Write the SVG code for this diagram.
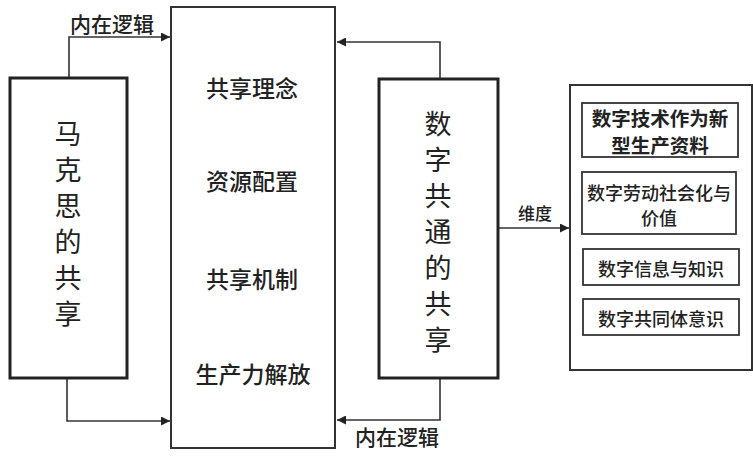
<svg xmlns="http://www.w3.org/2000/svg" width="753" height="456" viewBox="0 0 753 456">
<style>
.bg{fill:#fff}
.thick{fill:#fff;stroke:#222;stroke-width:3}
.thin{fill:#fff;stroke:#333;stroke-width:2}
.inner{fill:#fff;stroke:#333;stroke-width:1.8}
.line{fill:none;stroke:#333;stroke-width:1.6}
text{font-family:"Noto Sans CJK SC","Noto Sans CJK JP",sans-serif;fill:#222;text-anchor:middle;dominant-baseline:central}
.big{font-size:27px}
.mid{font-size:23px;font-weight:500}
.lbl{font-size:21px;font-weight:500}
.sm{font-size:17px;font-weight:500}
.box{font-size:19.5px;font-weight:bold}
.box2{font-size:18px;font-weight:500}
</style>
<defs>
<marker id="arr" viewBox="0 0 10 10" refX="10" refY="5" markerWidth="9" markerHeight="9" markerUnits="userSpaceOnUse" orient="auto">
<path d="M0,0 L10,5 L0,10 z" fill="#222"/>
</marker>
</defs>
<rect class="bg" x="0" y="0" width="753" height="456"/>
<g id="connectors">
<path class="line" d="M69,78 V37 H170" marker-end="url(#arr)"/>
<path class="line" d="M67,378 V421 H170" marker-end="url(#arr)"/>
<path class="line" d="M440,79 V42 H337" marker-end="url(#arr)"/>
<path class="line" d="M440,378 V420 H337" marker-end="url(#arr)"/>
<path class="line" d="M498,228 H569" marker-end="url(#arr)"/>
<text class="lbl" x="112" y="23">内在逻辑</text>
<text class="lbl" x="397" y="436">内在逻辑</text>
<text class="sm" x="535" y="212">维度</text>
</g>
<g id="marx">
<rect class="thick" x="10" y="78" width="117" height="300"/>
<text class="big" x="68" y="132">马</text>
<text class="big" x="68" y="168">克</text>
<text class="big" x="68" y="204">思</text>
<text class="big" x="68" y="240">的</text>
<text class="big" x="68" y="276">共</text>
<text class="big" x="68" y="312">享</text>
</g>
<g id="center">
<rect class="thin" x="171" y="7" width="164" height="441"/>
<text class="mid" x="252" y="87">共享理念</text>
<text class="mid" x="252" y="180">资源配置</text>
<text class="mid" x="252" y="278">共享机制</text>
<text class="mid" x="253" y="373">生产力解放</text>
</g>
<g id="digital">
<rect class="thick" x="379" y="79" width="119" height="299"/>
<text class="big" x="438" y="122">数</text>
<text class="big" x="438" y="158">字</text>
<text class="big" x="438" y="194">共</text>
<text class="big" x="438" y="230">通</text>
<text class="big" x="438" y="266">的</text>
<text class="big" x="438" y="302">共</text>
<text class="big" x="438" y="338">享</text>
</g>
<g id="dimensions">
<rect class="thin" x="570" y="85" width="182" height="285"/>
<g id="dim1">
<rect class="inner" x="582" y="103" width="156" height="54"/>
<text class="box" x="660" y="117">数字技术作为新</text>
<text class="box" x="660" y="144">型生产资料</text>
</g>
<g id="dim2">
<rect class="inner" x="582" y="172" width="154" height="62"/>
<text class="box2" x="659" y="192">数字劳动社会化与</text>
<text class="box2" x="659" y="217">价值</text>
</g>
<g id="dim3">
<rect class="inner" x="583" y="249" width="156" height="36"/>
<text class="box2" x="661" y="268">数字信息与知识</text>
</g>
<g id="dim4">
<rect class="inner" x="583" y="299" width="156" height="36"/>
<text class="box2" x="661" y="318">数字共同体意识</text>
</g>
</g>
</svg>
